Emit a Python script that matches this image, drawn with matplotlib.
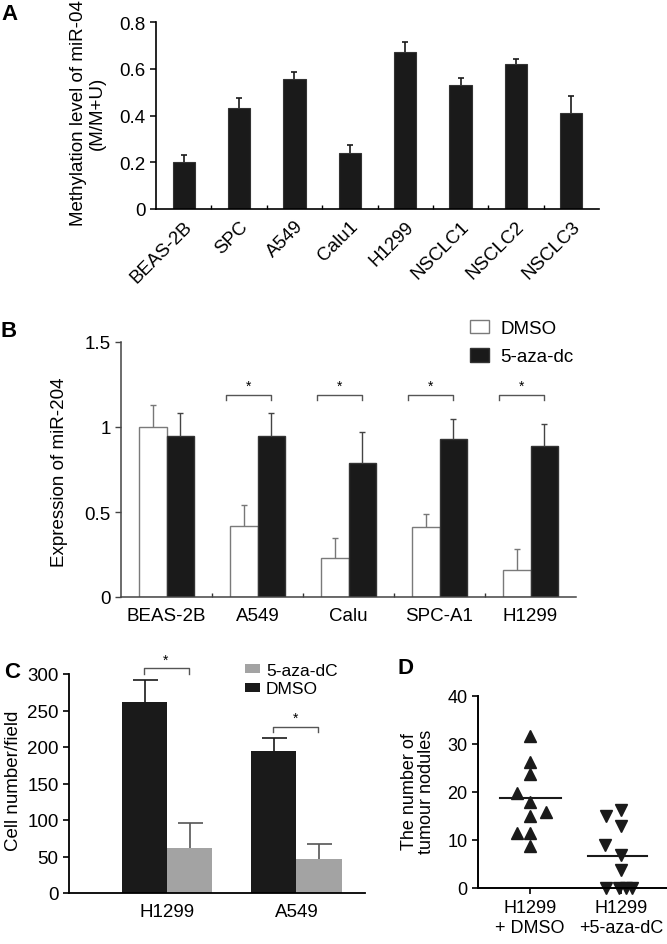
import numpy as np
import matplotlib
matplotlib.use('Agg')
import matplotlib.pyplot as plt

plt.rcParams['font.family'] = ['Liberation Sans', 'DejaVu Sans']
plt.rcParams['font.size'] = 13.5

# Panel A - methylation level
a_labels = ['BEAS-2B', 'SPC', 'A549', 'Calu1', 'H1299', 'NSCLC1', 'NSCLC2', 'NSCLC3']
a_vals = [0.20, 0.43, 0.555, 0.24, 0.67, 0.53, 0.62, 0.41]
a_err = [0.033, 0.043, 0.033, 0.034, 0.043, 0.032, 0.02, 0.072]

# Panel B - expression of miR-204
b_labels = ['BEAS-2B', 'A549', 'Calu', 'SPC-A1', 'H1299']
b_dmso = [1.0, 0.42, 0.23, 0.41, 0.16]
b_dmso_err = [0.13, 0.12, 0.12, 0.08, 0.12]
b_aza = [0.95, 0.945, 0.79, 0.93, 0.89]
b_aza_err = [0.135, 0.14, 0.18, 0.115, 0.13]
b_sig = ['', '*', '*', '*', '*']

# Panel C - cell number/field
c_labels = ['H1299', 'A549']
c_dmso = [261, 194]
c_dmso_err = [31, 18]
c_aza = [62, 47]
c_aza_err = [34, 20]

# Panel D - tumour nodules
d_labels = ['H1299\n+ DMSO', 'H1299\n+5-aza-dC']
d_dmso = [31.7, 26.2, 23.7, 19.7, 17.9, 15.8, 14.9, 11.4, 11.4, 8.65]
d_dmso_jit = [0, 0, 0, -0.14, 0, 0.18, 0, -0.14, 0, 0]
d_aza = [16.3, 15.1, 13.0, 9.0, 6.9, 3.7, 0, 0, 0, 0]
d_aza_jit = [0, -0.17, 0, -0.18, 0, 0, -0.17, -0.03, 0.05, 0.12]
d_mean = [18.8, 6.6]

W, H = 667, 945
BLACK = '#1a1a1a'
GRAY = '#a3a3a3'


def px(x, y):
    return x / W, 1 - y / H


def box(l, t, r, b):
    return [l / W, 1 - b / H, (r - l) / W, (b - t) / H]


def upper_err(ax, x, y, err, color, lw, cap):
    # error bar drawn upward only, with a single cap on top
    eb = ax.errorbar(x, y, yerr=[np.zeros(len(err)), err], fmt='none',
                     ecolor=color, elinewidth=lw, capsize=cap, capthick=lw)
    eb[1][0].set_visible(False)
    return eb


fig = plt.figure(figsize=(W / 100, H / 100), dpi=100)

# ---------- A ----------
ax = fig.add_axes(box(156, 23, 599, 210))
xa = np.arange(len(a_labels))
ax.bar(xa, a_vals, width=0.4, color=BLACK, edgecolor='#333333', linewidth=0.8)
upper_err(ax, xa, a_vals, a_err, BLACK, 1.2, 2)
ax.set_xlim(-0.5, len(a_labels) - 0.5)
ax.set_ylim(0, 0.8)
ax.set_yticks([0, 0.2, 0.4, 0.6, 0.8])
ax.set_yticklabels(['0', '0.2', '0.4', '0.6', '0.8'])
ax.set_xticks(xa)
ax.set_xticklabels(a_labels, rotation=45, ha='right', rotation_mode='anchor')
ax.tick_params(axis='x', length=0, pad=6)
ax.set_xticks(xa[:-1] + 0.5, minor=True)
ax.tick_params(axis='x', which='minor', direction='in', length=3, width=1)
ax.tick_params(axis='y', length=4, width=1.1)
for s in ['top', 'right']:
    ax.spines[s].set_visible(False)
for s in ['left', 'bottom']:
    ax.spines[s].set_linewidth(1.2)
fig.text(*px(88, 113), 'Methylation level of miR-04\n(M/M+U)', rotation=90,
         ha='center', va='center', multialignment='center', linespacing=1.1)
fig.text(*px(10, 14), 'A', fontsize=16, fontweight='bold', ha='center', va='center')

# ---------- B ----------
ax = fig.add_axes(box(121, 343, 576, 598))
xb = np.arange(len(b_labels))
bw = 0.3
ax.bar(xb - bw / 2, b_dmso, width=bw, color='white', edgecolor='#7a7a7a',
       linewidth=1, label='DMSO')
ax.bar(xb + bw / 2, b_aza, width=bw, color=BLACK, edgecolor='#333333',
       linewidth=1, label='5-aza-dc')
upper_err(ax, xb - bw / 2, b_dmso, b_dmso_err, '#777777', 1, 2)
upper_err(ax, xb + bw / 2, b_aza, b_aza_err, '#444444', 1, 2)
for i, s in enumerate(b_sig):
    if s:
        ax.plot([i - 0.35, i - 0.35, i + 0.15, i + 0.15], [1.16, 1.19, 1.19, 1.16],
                color='#555555', lw=1)
        ax.text(i - 0.1, 1.2, s, ha='center', va='bottom', fontsize=10)
ax.set_xlim(-0.5, len(b_labels) - 0.5)
ax.set_ylim(0, 1.5)
ax.set_yticks([0, 0.5, 1, 1.5])
ax.set_yticklabels(['0', '0.5', '1', '1.5'])
ax.set_xticks(xb)
ax.set_xticklabels(b_labels)
ax.tick_params(axis='x', length=0, pad=7)
ax.set_xticks(xb[:-1] + 0.5, minor=True)
ax.tick_params(axis='x', which='minor', direction='in', length=3, width=1, color='#333333')
ax.tick_params(axis='y', length=4, width=1, color='#444444')
for s in ['top', 'right']:
    ax.spines[s].set_visible(False)
for s in ['left', 'bottom']:
    ax.spines[s].set_color('#444444')
    ax.spines[s].set_linewidth(1.1)
ax.legend(loc='upper left', bbox_to_anchor=px(470, 321), bbox_transform=fig.transFigure,
          frameon=False, borderpad=0, borderaxespad=0, handlelength=1.0, handleheight=0.7,
          handletextpad=0.6, labelspacing=0.6)
fig.text(*px(60, 472), 'Expression of miR-204', rotation=90, ha='center', va='center')
fig.text(*px(9, 332), 'B', fontsize=16, fontweight='bold', ha='center', va='center')

# ---------- C ----------
ax = fig.add_axes(box(69, 675, 365, 894))
xc = np.arange(len(c_labels))
cw = 0.35
ax.bar(xc - cw / 2, c_dmso, width=cw, color=BLACK, label='DMSO')
ax.bar(xc + cw / 2, c_aza, width=cw, color=GRAY, label='5-aza-dC')
upper_err(ax, xc - cw / 2, c_dmso, c_dmso_err, BLACK, 1.2, 9)
upper_err(ax, xc + cw / 2, c_aza, c_aza_err, '#555555', 1.2, 9)
for i, top in enumerate([c_dmso[j] + c_dmso_err[j] for j in range(len(c_dmso))]):
    yb = top + 8
    ax.plot([i - 0.18, i - 0.18, i + 0.17, i + 0.17], [yb, yb + 8, yb + 8, yb],
            color='#555555', lw=1, clip_on=False)
    ax.text(i - 0.01, yb + 10, '*', ha='center', va='bottom', fontsize=10)
ax.set_xlim(-0.76, 1.53)
ax.set_ylim(0, 300)
ax.set_yticks(range(0, 301, 50))
ax.set_xticks(xc)
ax.set_xticklabels(c_labels)
ax.tick_params(axis='x', length=0, pad=7)
ax.tick_params(axis='y', length=4, width=1.2)
for s in ['top', 'right']:
    ax.spines[s].set_visible(False)
for s in ['left', 'bottom']:
    ax.spines[s].set_linewidth(1.3)
h, l = ax.get_legend_handles_labels()
ax.legend(h[::-1], l[::-1], loc='upper left', bbox_to_anchor=px(245, 664),
          bbox_transform=fig.transFigure, frameon=False, fontsize=12.5, borderpad=0,
          borderaxespad=0, handlelength=0.85, handleheight=0.45, handletextpad=0.35,
          labelspacing=0.2)
fig.text(*px(14, 781), 'Cell number/field', rotation=90, ha='center', va='center')
fig.text(*px(12, 672), 'C', fontsize=16, fontweight='bold', ha='center', va='center')

# ---------- D ----------
ax = fig.add_axes(box(478, 697, 667, 889))
ax.plot(np.array(d_dmso_jit), d_dmso, '^', color=BLACK, markersize=9, clip_on=False)
ax.plot(1 + np.array(d_aza_jit), d_aza, 'v', color=BLACK, markersize=9, clip_on=False)
ax.plot([-0.33, 0.34], [d_mean[0]] * 2, color=BLACK, lw=1.5)
ax.plot([0.64, 1.28], [d_mean[1]] * 2, color=BLACK, lw=1.5)
ax.set_xlim(-0.57, 1.5)
ax.set_ylim(0, 40)
ax.set_yticks(range(0, 41, 10))
ax.set_xticks([0, 1])
ax.set_xticklabels(d_labels, fontsize=13)
ax.tick_params(axis='x', length=4, width=1.2, pad=4)
ax.tick_params(axis='y', length=4, width=1.2, labelsize=13)
for s in ['top', 'right']:
    ax.spines[s].set_visible(False)
for s in ['left', 'bottom']:
    ax.spines[s].set_linewidth(1.4)
fig.text(*px(418, 792), 'The number of\ntumour nodules', rotation=90, ha='center',
         va='center', multialignment='center', fontsize=13, linespacing=1.0)
fig.text(*px(405, 668), 'D', fontsize=16, fontweight='bold', ha='center', va='center')

fig.savefig('out.png', dpi=100)
